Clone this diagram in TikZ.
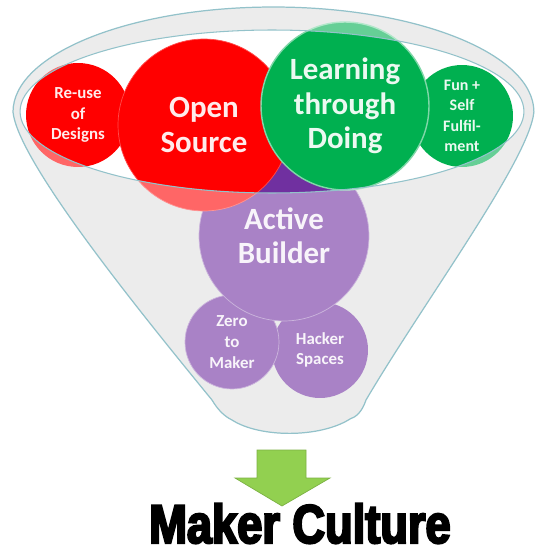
\documentclass[tikz,border=0pt]{standalone}
\usepackage{fontspec}
\setmainfont{Carlito}
\newfontfamily\impactfont{Liberation Sans}[UprightFont=* Bold, FakeStretch=0.83, FakeBold=4]

\definecolor{mred}{HTML}{FF0000}
\definecolor{mgreen}{HTML}{00B050}
\definecolor{mpurple}{HTML}{7030A0}
\definecolor{funnelline}{HTML}{93C2CA}
\definecolor{funnelfill}{HTML}{E0E0E0}
\definecolor{arrowgreen}{HTML}{92D050}

\begin{document}
\begin{tikzpicture}[x=0.02cm, y=-0.02cm,
  bubble/.style={circle, inner sep=0pt, align=center},
  bigtext/.style={font=\bfseries\fontsize{17.6}{19.5}\selectfont},
  smalltext/.style={font=\bfseries\fontsize{9.6}{11.8}\selectfont}]

% outline of the funnel, pixel units
\def \funnelpath {(13,112) arc[start angle=180, end angle=0, x radius=5.21cm, y radius=2.1cm]
  .. controls (529,160) and (425,300) .. (366,400)
  .. controls (362,412) and (356,417) .. (350,419)
  .. controls (320,438) and (260,438) .. (232,420)
  .. controls (224,416) and (218,410) .. (212,400)
  .. controls (130,300) and (18,160) .. (13,112) -- cycle}
\def \rim {(272,111.5) ellipse[x radius=5.04cm, y radius=1.63cm]}

\useasboundingbox (0,0) rectangle (543,557);

\fill[funnelfill] \funnelpath;
\fill[white] \rim;

% bubbles, back to front
\node[bubble, smalltext, fill=mpurple, text=mpurple!8, minimum size=1.92cm] (hacker) at (320,350) {Hacker\\Spaces};
\node[bubble, smalltext, fill=mpurple, text=mpurple!8, draw=mpurple!60!white, minimum size=1.88cm] (zero) at (232,342) {Zero\\to\\Maker};
\node[bubble, bigtext, fill=mpurple, text=mpurple!8, draw=mpurple!60!white, minimum size=3.4cm] (active) at (284,236) {Active\\Builder};
\node[bubble, font=\bfseries\fontsize{9.1}{11.6}\selectfont, fill=mgreen, text=mgreen!8, minimum size=2.04cm] (fun) at (462,116) {Fun +\\Self\\Fulfil-\\ment};
\node[bubble, smalltext, fill=mred, text=mred!8, minimum size=2.08cm] (reuse) at (78,115) {Re-use\\of\\Designs};
\node[bubble, bigtext, fill=mred, text=mred!8, draw=mred!70!white, minimum size=3.44cm] (open) at (204,125) {Open\\Source};
\node[bubble, bigtext, fill=mgreen, text=mgreen!8, draw=mgreen!50!white, line width=0.8pt, minimum size=3.36cm] (learning) at (345,106) {Learning\\through\\Doing};

% front glass of the funnel
\fill[white, opacity=0.4, even odd rule] \funnelpath \rim;
\draw[funnelline, line width=0.7pt] \funnelpath;
\draw[funnelline, line width=0.6pt] \rim;

% arrow and title
\filldraw[fill=arrowgreen, draw=arrowgreen!85!black, line width=0.4pt]
  (257,450) -- (306,450) -- (306,478) -- (330,478) -- (282,506) -- (235,478) -- (257,478) -- cycle;
\node[anchor=base, font=\impactfont\fontsize{31}{32}\selectfont] (culture) at (300,543) {Maker Culture};

\end{tikzpicture}
\end{document}
